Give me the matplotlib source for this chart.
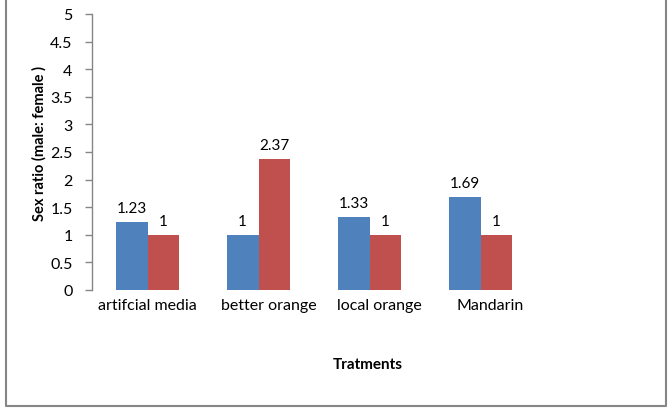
import numpy as np
import matplotlib
matplotlib.use('Agg')
import matplotlib.pyplot as plt
import matplotlib.transforms as mtransforms

plt.rcParams['font.family'] = ['Lato', 'DejaVu Sans']

# data
treatments = ['artifcial media', 'better orange', 'local orange', 'Mandarin']
male_side = [1.23, 1, 1.33, 1.69]
female_side = [1, 2.37, 1, 1]
yticks = [0, 0.5, 1, 1.5, 2, 2.5, 3, 3.5, 4, 4.5, 5]

blue = '#4F81BD'
red = '#C0504D'
W, H = 672, 410

fig = plt.figure(figsize=(W / 100, H / 100), dpi=100)
ax = fig.add_axes([92 / W, 1 - 291 / H, 444 / W, 276 / H])

x = np.arange(len(treatments))
bw = 1 / 3.5
b1 = ax.bar(x - bw / 2, male_side, bw, color=blue)
b2 = ax.bar(x + bw / 2, female_side, bw, color=red)

for bars, vals in ((b1, male_side), (b2, female_side)):
    for r, v in zip(bars, vals):
        ax.annotate('%g' % v, (r.get_x() + r.get_width() / 2, r.get_height()),
                    xytext=(0, 5), textcoords='offset points',
                    ha='center', va='bottom', fontsize=11, color='black')

ax.set_xlim(-0.5, len(treatments) - 0.5)
ax.set_ylim(0, 5)
ax.set_yticks(yticks)
ax.set_yticklabels(['%g' % t for t in yticks], fontsize=11.5)
ax.set_xticks(x)
ax.set_xticklabels(treatments, fontsize=11.5)
ax.tick_params(axis='x', length=0, pad=6)
ax.tick_params(axis='y', length=5, color='#868686', width=1, pad=9)

# labels after the first sit a bit right of their slot in the original
off = mtransforms.ScaledTranslation(10 / 100, 0, fig.dpi_scale_trans)
for lab in ax.get_xticklabels()[1:]:
    lab.set_transform(lab.get_transform() + off)

for s in ['top', 'right', 'bottom']:
    ax.spines[s].set_visible(False)
ax.spines['left'].set_color('#868686')
ax.spines['left'].set_linewidth(1)

fig.text(39 / W, 1 - 144 / H, 'Sex ratio (male: female )', rotation=90,
         ha='center', va='center', fontsize=10.5, fontweight='bold')
fig.text(368 / W, 1 - 365 / H, 'Tratments', ha='center', va='center',
         fontsize=11, fontweight='bold')

# outer chart border (top edge is cropped off in the original)
border = plt.Line2D([5.5 / W, 5.5 / W, 665.5 / W, 665.5 / W],
                    [1.0, 1 - 407 / H, 1 - 407 / H, 1.0],
                    transform=fig.transFigure, color='#868686', lw=1.5)
fig.add_artist(border)

fig.savefig('out.png', dpi=100)
